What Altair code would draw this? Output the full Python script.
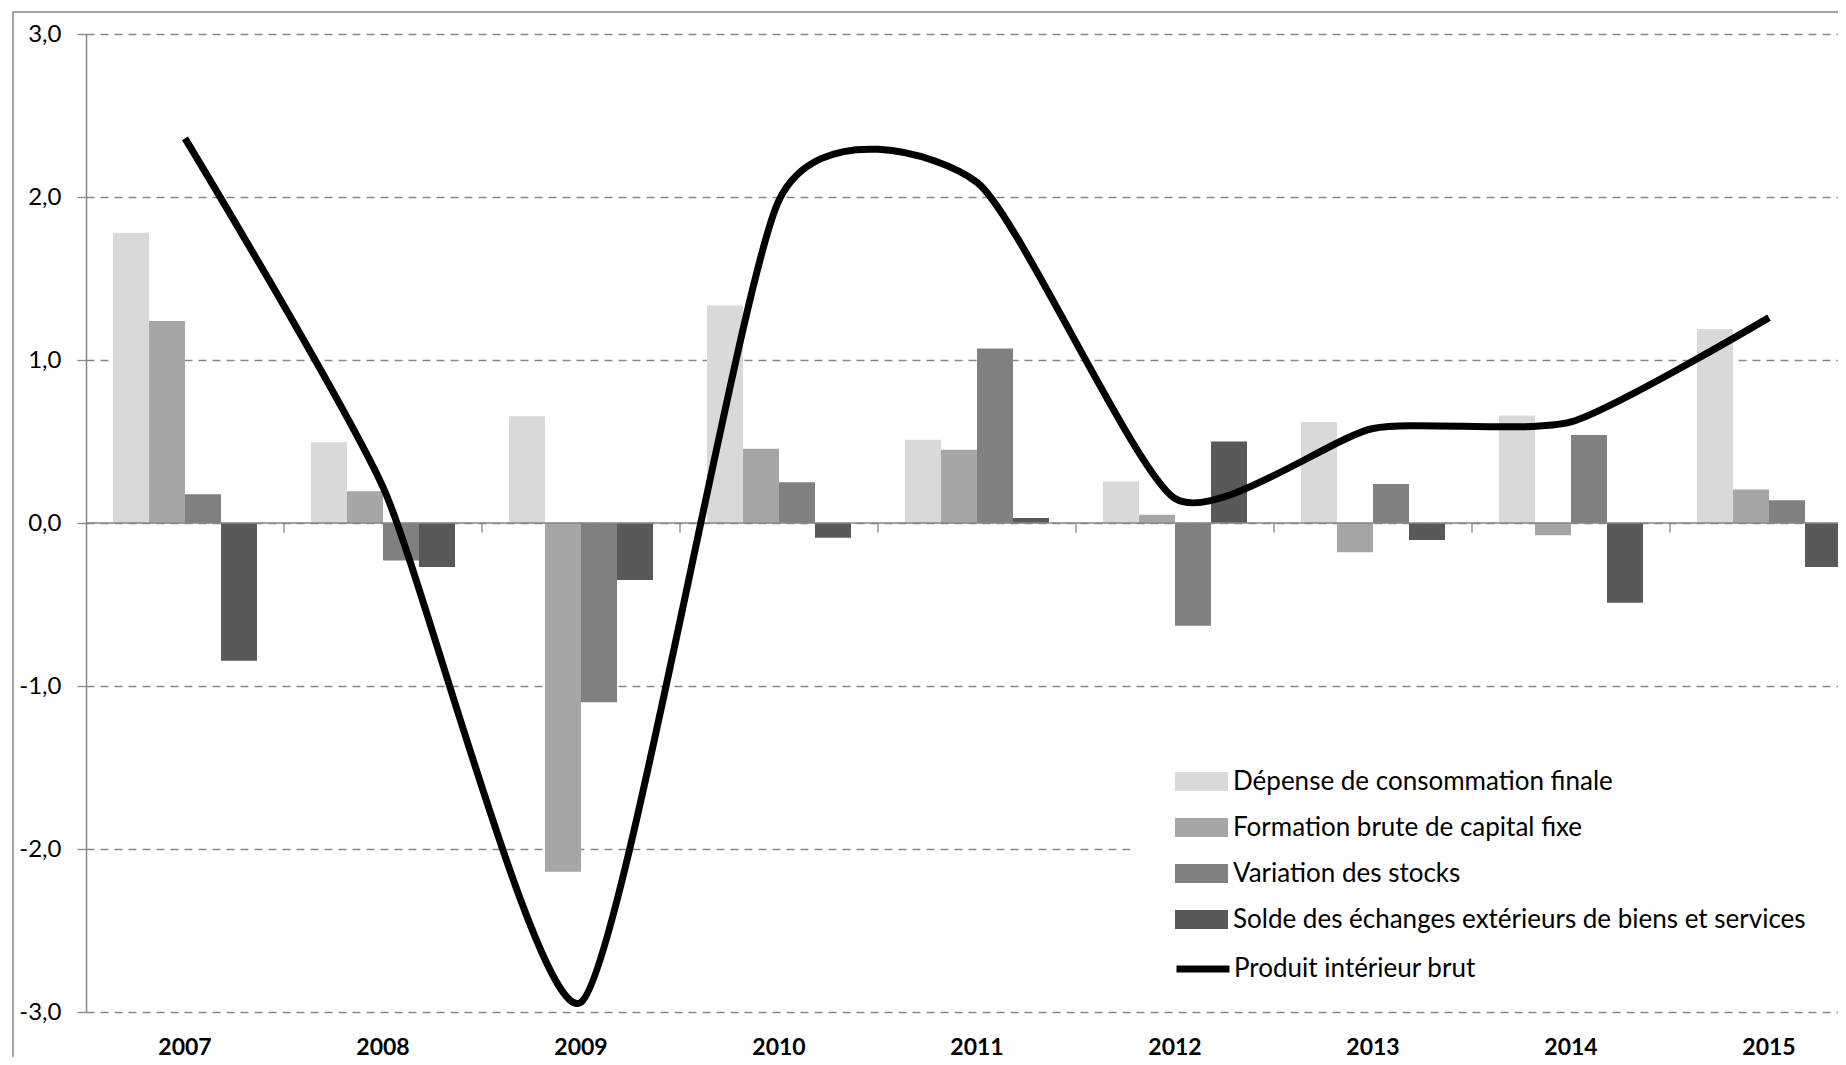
import altair as alt
import pandas as pd

years = ["2007", "2008", "2009", "2010", "2011", "2012", "2013", "2014", "2015"]
series = [
    "Dépense de consommation finale",
    "Formation brute de capital fixe",
    "Variation des stocks",
    "Solde des échanges extérieurs de biens et services",
]
depense = [1.78, 0.495, 0.655, 1.335, 0.51, 0.255, 0.62, 0.66, 1.19]
formation = [1.24, 0.195, -2.14, 0.455, 0.45, 0.05, -0.18, -0.075, 0.205]
variation = [0.176, -0.23, -1.10, 0.25, 1.07, -0.63, 0.24, 0.54, 0.14]
solde = [-0.845, -0.27, -0.35, -0.09, 0.03, 0.50, -0.105, -0.49, -0.27]
pib_label = "Produit intérieur brut"
pib = [2.36, 0.22, -2.94, 1.98, 2.09, 0.15, 0.58, 0.62, 1.26]
bar_colors = ["#d9d9d9", "#a6a6a6", "#808080", "#595959"]
y_ticks = [-3, -2, -1, 0, 1, 2, 3]

rows = []
for s, vals in zip(series, [depense, formation, variation, solde]):
    for yr, v in zip(years, vals):
        rows.append({"year": yr, "serie": s, "value": v})
bars_df = pd.DataFrame(rows)
pib_df = pd.DataFrame({"year": years, "indicateur": pib_label, "value": pib})
ticks_df = pd.DataFrame({"year": years[1:]})

FONT = "Lato"
GRAY = "#868686"
PW, PH = 1752, 978
BAND = 198

x_scale = alt.Scale(domain=years, range=[0, BAND * len(years)], paddingInner=0, paddingOuter=0)
y_scale = alt.Scale(domain=[-3, 3], nice=False, zero=False)

x_axis = alt.Axis(
    title=None, labelAngle=0, labelFont=FONT, labelFontSize=23, labelFontWeight="bold",
    labelColor="#000000", domain=False, ticks=False, grid=False, labelPadding=24,
)
y_axis = alt.Axis(
    title=None, values=y_ticks,
    labelExpr="(datum.value < 0 ? '-' : '') + replace(format(abs(datum.value), '.1f'), '.', ',')",
    labelFont=FONT, labelFontSize=24, labelColor="#000000", labelPadding=16,
    tickSize=9, tickColor=GRAY, tickWidth=1.3,
    domainColor=GRAY, domainWidth=1.5,
    grid=True, gridColor=GRAY, gridDash=[8, 6], gridWidth=1.3,
)

border = alt.Chart(alt.Data(values=[{}])).mark_rect(
    fill=None, stroke=GRAY, strokeWidth=1.5
).encode(
    x=alt.value(-73), x2=alt.value(PW + 60), y=alt.value(-22), y2=alt.value(PH + 60)
)

bars = alt.Chart(bars_df).mark_bar().encode(
    x=alt.X("year:O", scale=x_scale, axis=x_axis),
    xOffset=alt.XOffset("serie:N", scale=alt.Scale(domain=series, paddingInner=0, paddingOuter=0.75)),
    y=alt.Y("value:Q", scale=y_scale, axis=y_axis),
    fill=alt.Fill(
        "serie:N",
        scale=alt.Scale(domain=series, range=bar_colors),
        legend=alt.Legend(
            title=None, orient="none", legendX=1044, legendY=676,
            symbolType="M-1,-0.36L1,-0.36L1,0.36L-1,0.36Z", symbolSize=2809,
            symbolStrokeWidth=0, symbolOpacity=1,
            labelFont=FONT, labelFontSize=26, labelColor="#000000", labelOffset=5,
            labelLimit=1000, rowPadding=6, padding=45, fillColor="white",
        ),
    ),
)

zero_line = alt.Chart(alt.Data(values=[{}])).mark_rule(color=GRAY, strokeWidth=1.6).encode(
    y=alt.datum(0, scale=y_scale)
)

cat_ticks = alt.Chart(ticks_df).mark_rule(color=GRAY, strokeWidth=1.3).encode(
    x=alt.X("year:O", scale=x_scale, bandPosition=0),
    y=alt.datum(0),
    y2=alt.datum(-0.06),
)

line = alt.Chart(pib_df).mark_line(
    interpolate="cardinal", tension=0.4, strokeWidth=7
).encode(
    x=alt.X("year:O", scale=x_scale),
    y=alt.Y("value:Q", scale=y_scale),
    stroke=alt.Stroke(
        "indicateur:N",
        scale=alt.Scale(domain=[pib_label], range=["#000000"]),
        legend=alt.Legend(
            title=None, orient="none", legendX=1082, legendY=900,
            symbolType="stroke", symbolSize=2809, symbolStrokeWidth=7,
            labelFont=FONT, labelFontSize=26, labelColor="#000000", labelOffset=1,
            labelLimit=1000, padding=5, fillColor="white",
        ),
    ),
)

chart = alt.layer(border, bars, zero_line, cat_ticks, line).properties(
    width=PW, height=PH,
    autosize=alt.AutoSizeParams(type="none"),
    padding={"left": 78, "top": 26, "right": 0, "bottom": 45},
    background="white",
).configure_view(stroke=None)

chart.save("out.html", embed_options={"renderer": "svg", "actions": False})
